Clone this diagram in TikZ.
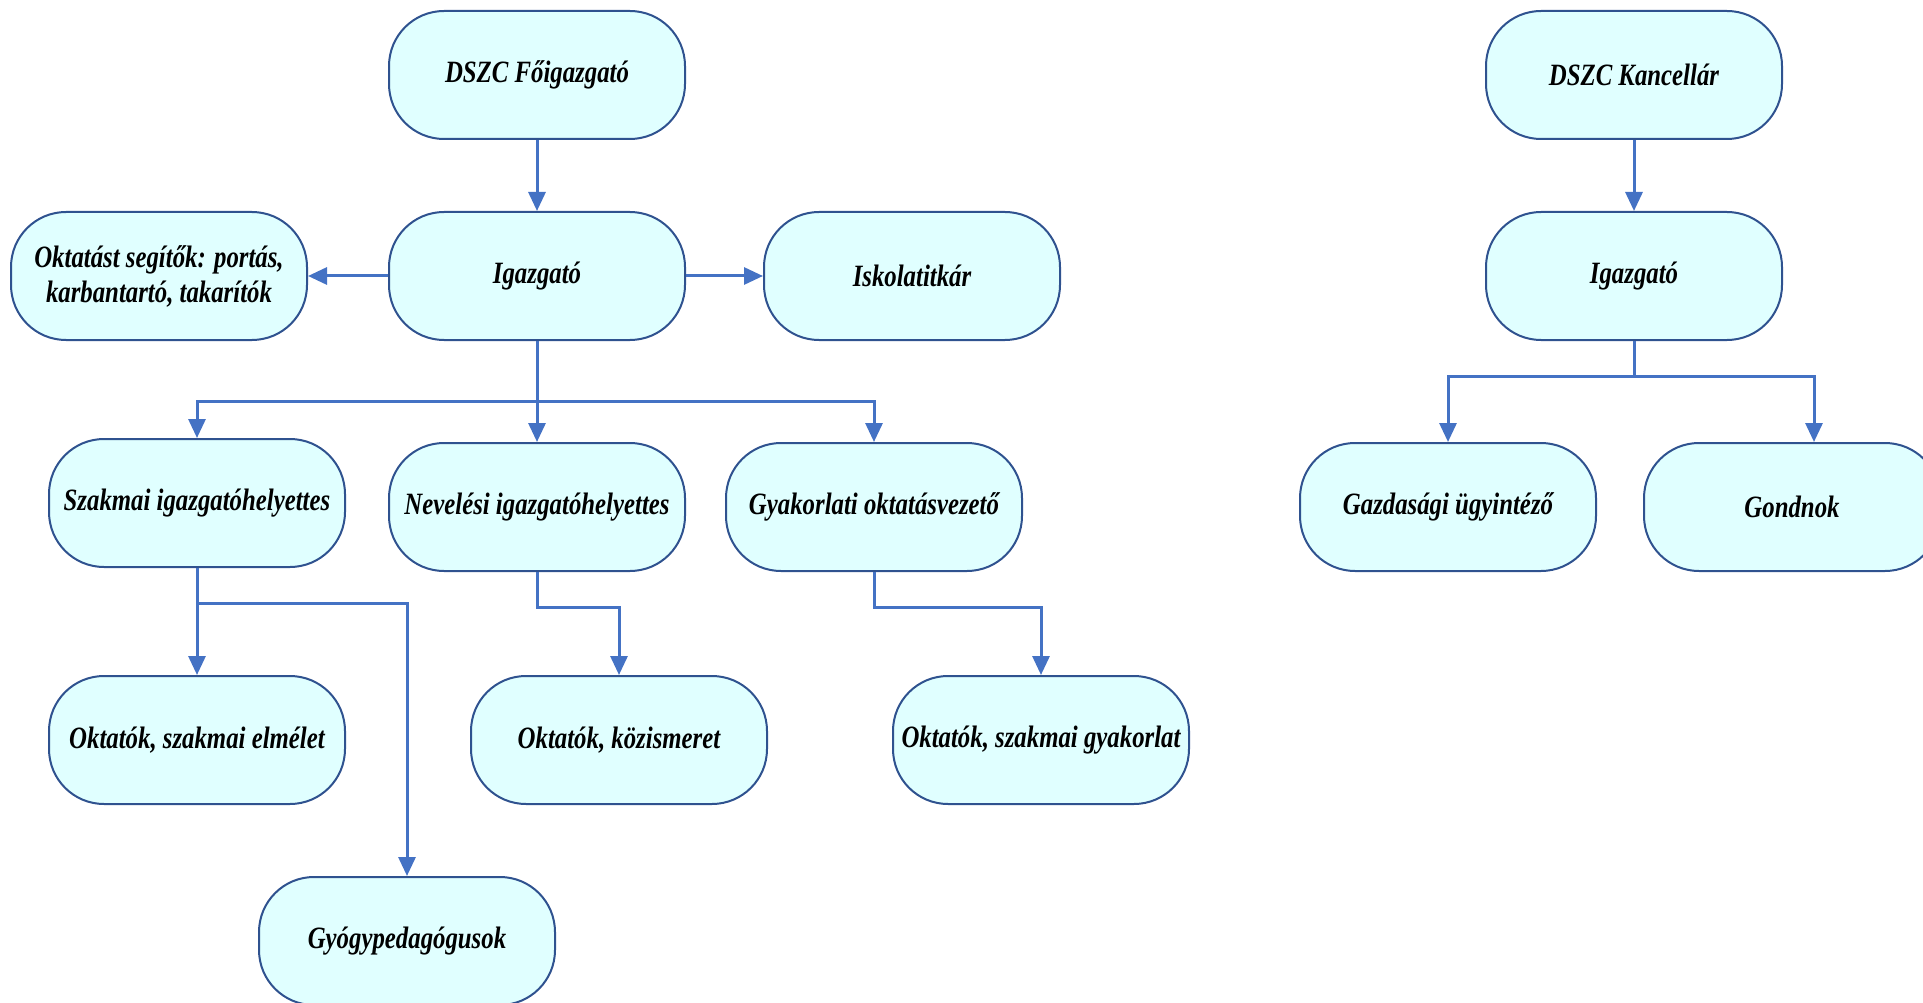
\documentclass[tikz,border=0pt]{standalone}
\usepackage{fontspec}
\setmainfont{Liberation Serif}[FakeStretch=0.8]
\usetikzlibrary{arrows.meta}
\definecolor{boxfill}{RGB}{224,255,255}
\definecolor{boxline}{RGB}{47,82,143}
\definecolor{conncol}{RGB}{68,114,196}
\tikzset{
  orgbox/.style={draw=boxline, line width=2pt, fill=boxfill, rounded corners=55pt,
    minimum width=296pt, minimum height=128pt, inner sep=0pt, align=center,
    font=\fontsize{31}{35}\selectfont\bfseries\itshape},
  conn/.style={draw=conncol, line width=3pt},
  arr/.style={conn, -{Triangle[length=19pt,width=17pt]}}
}
\begin{document}
\begin{tikzpicture}[x=1pt,y=-1pt]
\useasboundingbox (0,0) rectangle (1923,1003);
% left tree
\node[orgbox] (fo)   at (537,75)  {DSZC Főigazgató};
\node[orgbox] (ig)   at (537,276) {Igazgató};
\node[orgbox] (okt)  at (159,276) {Oktatást segítők: portás,\\karbantartó, takarítók};
\node[orgbox] (isk)  at (912,276) {Iskolatitkár};
\node[orgbox] (szak) at (197,503) {Szakmai igazgatóhelyettes};
\node[orgbox] (nev)  at (537,507) {Nevelési igazgatóhelyettes};
\node[orgbox] (gyak) at (874,507) {Gyakorlati oktatásvezető};
\node[orgbox] (ose)  at (197,740) {Oktatók, szakmai elmélet};
\node[orgbox] (ok)   at (619,740) {Oktatók, közismeret};
\node[orgbox] (osg)  at (1041,740) {Oktatók, szakmai gyakorlat};
\node[orgbox] (gyo)  at (407,941) {Gyógypedagógusok};
% right tree
\node[orgbox] (kanc) at (1634,75)  {DSZC Kancellár};
\node[orgbox] (ig2)  at (1634,276) {Igazgató};
\node[orgbox] (gazd) at (1448,507) {Gazdasági ügyintéző};
\node[orgbox] (gond) at (1792,507) {Gondnok};
% helper coordinates
\coordinate (bus1) at (537,401);
\coordinate (bus2) at (197,603);
\coordinate (bus3) at (537,607);
\coordinate (bus4) at (874,607);
\coordinate (bus5) at (1634,376);
\coordinate (gx) at (1814,0);
% connectors
\draw[arr] (fo.south) -- (ig.north);
\draw[arr] (ig.west) -- (okt.east);
\draw[arr] (ig.east) -- (isk.west);
\draw[conn] (ig.south) -- (bus1);
\draw[arr] (bus1) -| (szak.north);
\draw[arr] (bus1) -| (gyak.north);
\draw[arr] (bus1) -- (nev.north);
\draw[arr] (szak.south) -- (ose.north);
\draw[arr] (bus2) -| (gyo.north);
\draw[arr] (nev.south) -- (bus3) -| (ok.north);
\draw[arr] (gyak.south) -- (bus4) -| (osg.north);
\draw[arr] (kanc.south) -- (ig2.north);
\draw[conn] (ig2.south) -- (bus5);
\draw[arr] (bus5) -| (gazd.north);
\draw[arr] (bus5) -| (gond.north -| gx);
\end{tikzpicture}
\end{document}
